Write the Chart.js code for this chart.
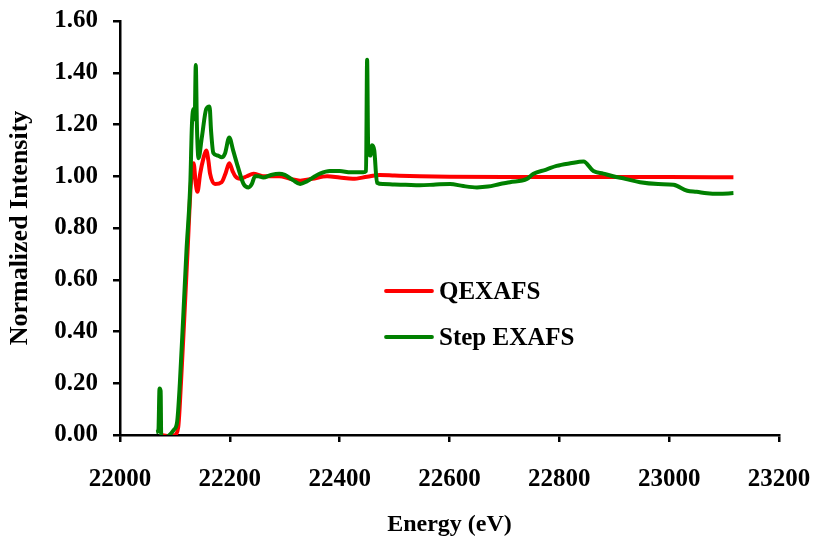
<!DOCTYPE html>
<html>
<head>
<meta charset="utf-8">
<script src="https://cdn.jsdelivr.net/npm/chart.js@4.4.1/dist/chart.umd.min.js"></script>
<style>
html,body{margin:0;padding:0;background:#fff;}
#wrap{width:815px;height:541px;position:relative;}
</style>
</head>
<body>
<div id="wrap"><canvas id="c" width="815" height="541"></canvas></div>
<script>
// Series names
const seriesNames = ["QEXAFS", "Step EXAFS"];

// QEXAFS (red)
const qEnergy = [22075,22090,22100,22106,22111,22117,22123,22129,22134,22138,22141,22146,22152,22157,22161,22164,22173,22185,22192,22199,22205,22210,22219,22231,22243,22260,22290,22310,22328,22350,22377,22400,22424,22450,22473,22500,22546,22600,22700,22800,22900,23000,23117];
const qValues = [0.0,-0.005,0.0,0.03,0.2,0.45,0.71,0.97,1.05,0.97,0.94,1.01,1.07,1.10,1.06,1.01,0.97,0.977,1.01,1.05,1.02,1.0,0.99,1.0,1.01,1.0,1.0,0.99,0.983,0.99,1.0,0.995,0.99,0.998,1.005,1.003,1.0,0.998,0.997,0.997,0.997,0.997,0.996];

// Step EXAFS (green)
const sEnergy = [22066,22070,22072,22074,22075,22080,22090,22098,22104,22109,22115,22121,22128,22131,22134,22136,22138,22140,22143,22149,22157,22163,22166,22170,22178,22185,22191,22199,22206,22215,22225,22234,22240,22246,22252,22261,22275,22290,22300,22315,22328,22340,22355,22364,22382,22400,22420,22443,22448,22450,22452,22456,22459,22463,22468,22479,22500,22520,22546,22575,22601,22625,22650,22670,22692,22710,22741,22753,22775,22795,22820,22844,22862,22880,22898,22920,22947,22980,23008,23033,23050,23069,23090,23117];
const sValues = [0.01,0.02,0.18,0.17,0.0,-0.01,0.0,0.02,0.05,0.2,0.45,0.71,0.97,1.2,1.26,1.22,1.43,1.2,1.07,1.15,1.26,1.27,1.17,1.09,1.08,1.073,1.087,1.15,1.10,1.034,0.97,0.957,0.97,1.0,1.0,0.995,1.005,1.01,1.005,0.985,0.97,0.98,1.0,1.01,1.02,1.02,1.015,1.015,1.02,1.45,1.1,1.08,1.12,1.10,0.975,0.97,0.968,0.967,0.965,0.968,0.97,0.962,0.957,0.96,0.97,0.977,0.99,1.01,1.025,1.04,1.05,1.057,1.02,1.01,1.0,0.99,0.977,0.97,0.967,0.944,0.94,0.934,0.932,0.935];

// Axis ticks
const xTicks = [22000,22200,22400,22600,22800,23000,23200];
const yTicks = [0,0.2,0.4,0.6,0.8,1.0,1.2,1.4,1.6];

const toXY = (xs, ys) => xs.map((x, i) => ({x: x, y: ys[i]}));
const FONT = '"Liberation Serif", "Times New Roman", serif';

const legendPlugin = {
  id: 'insideLegend',
  afterDatasetsDraw(chart) {
    const ctx = chart.ctx;
    const items = [
      {ds: chart.data.datasets[0], y: 291},
      {ds: chart.data.datasets[1], y: 337}
    ];
    ctx.save();
    items.forEach(it => {
      ctx.strokeStyle = it.ds.borderColor;
      ctx.lineWidth = 3.8;
      ctx.lineCap = 'round';
      ctx.beginPath();
      ctx.moveTo(386, it.y);
      ctx.lineTo(432, it.y);
      ctx.stroke();
      ctx.fillStyle = '#000';
      ctx.font = 'bold 25px ' + FONT;
      ctx.textBaseline = 'middle';
      ctx.textAlign = 'left';
      ctx.fillText(it.ds.label, 439, it.y + 2);
    });
    ctx.restore();
  }
};

new Chart(document.getElementById('c'), {
  type: 'line',
  data: {
    datasets: [
      {label: seriesNames[0], data: toXY(qEnergy, qValues), borderColor: '#ff0000', borderWidth: 4, pointRadius: 0, cubicInterpolationMode: 'monotone', order: 2},
      {label: seriesNames[1], data: toXY(sEnergy, sValues), borderColor: '#008000', borderWidth: 4, pointRadius: 0, cubicInterpolationMode: 'monotone', order: 1}
    ]
  },
  options: {
    responsive: false,
    animation: false,
    layout: {padding: {top: 21, right: 36, left: 0, bottom: 0}},
    plugins: {legend: {display: false}, tooltip: {enabled: false}},
    scales: {
      x: {
        type: 'linear',
        min: 22000, max: 23200,
        afterBuildTicks: s => { s.ticks = xTicks.map(v => ({value: v})); },
        ticks: {color: '#000', font: {family: FONT, size: 25, weight: 'bold'}, padding: 23, maxRotation: 0, autoSkip: false, callback: v => String(v)},
        grid: {drawOnChartArea: false, drawTicks: true, tickLength: 7, color: '#000', lineWidth: 2.5},
        border: {display: true, color: '#000', width: 2.5},
        title: {display: true, text: 'Energy (eV)', color: '#000', font: {family: FONT, size: 24, weight: 'bold'}, padding: {top: 0, bottom: 2}},
        afterFit: s => { s.height = 106; s.paddingLeft = 0; s.paddingRight = 0; }
      },
      y: {
        type: 'linear',
        min: 0, max: 1.6,
        afterBuildTicks: s => { s.ticks = yTicks.map(v => ({value: v})); },
        ticks: {color: '#000', font: {family: FONT, size: 25, weight: 'bold'}, padding: 15, callback: v => Number(v).toFixed(2)},
        grid: {drawOnChartArea: false, drawTicks: true, tickLength: 7, color: '#000', lineWidth: 2.5},
        border: {display: true, color: '#000', width: 2.5},
        title: {display: true, text: 'Normalized Intensity', color: '#000', font: {family: FONT, size: 26, weight: 'bold'}, padding: {top: 5, bottom: 0}},
        afterFit: s => { s.width = 120; s.paddingTop = 0; s.paddingBottom = 0; }
      }
    }
  },
  plugins: [legendPlugin]
});
</script>
</body>
</html>
